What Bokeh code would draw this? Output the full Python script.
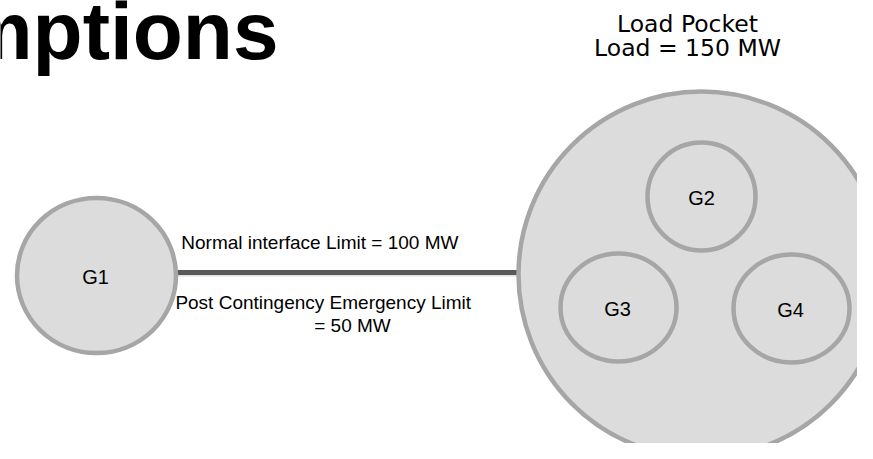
from bokeh.plotting import figure
from bokeh.models import Range1d, ColumnDataSource
from bokeh.core.properties import value
from bokeh.embed import file_html
from bokeh.resources import INLINE

H = 459  # reference image height (pixel coordinates)

# Nodes of the diagram (pixel coordinates of the reference picture)
node_names = ["Pocket", "G1", "G2", "G3", "G4"]
node_x = [701, 96, 701, 618, 791]
node_y = [274, 275, 196, 307, 308]
node_w = [366, 159, 108, 116, 116]
node_h = [366, 155, 108, 108, 108]

gen_labels = ["G1", "G2", "G3", "G4"]
gen_label_x = [95, 701, 617, 790]
gen_label_y = [276, 197, 308, 309]

# Interface line between G1 and the load pocket
line_x = [176, 518]
line_y = [272, 272]

title_text = "Assumptions"
pocket_lines = ["Load Pocket", "Load = 150 MW"]
pocket_x = [687, 687]
pocket_y = [23, 47]

iface_texts = ["Normal interface  Limit = 100 MW", "Post Contingency  Emergency  Limit", "= 50 MW"]
iface_x = [322, 328, 352]
iface_y = [242, 302, 325]

p = figure(width=857, height=443, output_backend="svg", toolbar_location=None,
           x_range=Range1d(0, 857), y_range=Range1d(H - 443, H), min_border=0)
p.axis.visible = False
p.grid.visible = False
p.outline_line_color = None
p.background_fill_color = "white"
p.border_fill_color = "white"

# connecting line (slight shadow + line)
p.line(line_x, [H - y - 2 for y in line_y], line_color="#d8d8d8", line_width=4, line_alpha=0.8)
p.line(line_x, [H - y for y in line_y], line_color="#595959", line_width=5)

# big pocket + generators
src = ColumnDataSource(dict(x=node_x, y=[H - y for y in node_y], w=node_w, h=node_h))
p.ellipse(x="x", y="y", width="w", height="h", source=src,
          fill_color="#dcdcdc", line_color="#a6a6a6", line_width=4.5)

p.text(x=gen_label_x, y=[H - y for y in gen_label_y], text=gen_labels,
       text_font=value("Liberation Sans"), text_font_size="20px", text_color="black",
       text_align="center", text_baseline="alphabetic")

p.text(x=pocket_x, y=[H - y for y in pocket_y], text=pocket_lines,
       text_font=value("DejaVu Sans"), text_font_size="23.5px", text_color="black",
       text_align="center", text_baseline="alphabetic")

p.text(x=iface_x, y=[H - y for y in iface_y], text=iface_texts,
       text_font=value("Liberation Sans"), text_font_size="19px", text_color="black",
       text_align="center", text_baseline="alphabetic")

p.text(x=[278], y=[H - 30], text=[title_text],
       text_font=value("Liberation Sans"), text_font_style="bold", text_font_size="82px",
       text_color="black", text_align="right", text_baseline="alphabetic")

open("out.html", "w").write(file_html(p, INLINE))
